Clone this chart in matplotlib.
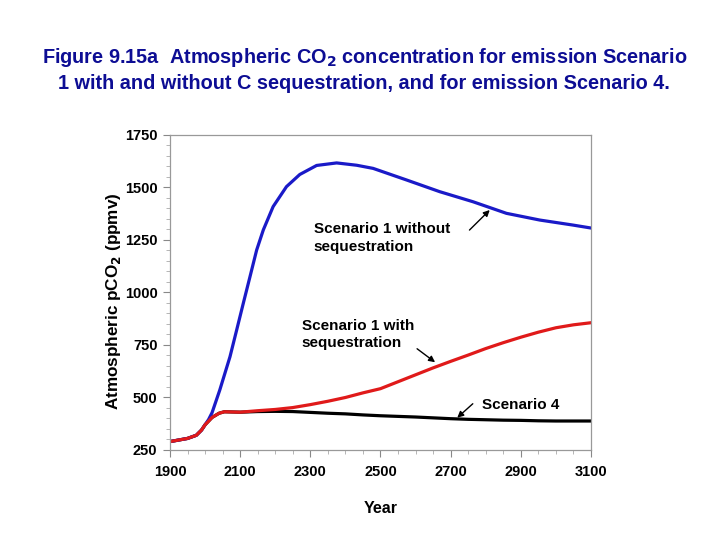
import matplotlib
matplotlib.use("Agg")
import matplotlib.pyplot as plt
from matplotlib.ticker import MultipleLocator

plt.rcParams['font.family'] = ['Liberation Sans', 'DejaVu Sans']
plt.rcParams['font.weight'] = 'bold'

# Scenario 1 without sequestration (blue)
years_s1_without = [1900, 1950, 1975, 1990, 2000, 2010, 2020, 2042, 2071, 2090, 2109, 2128,
                    2147, 2166, 2194, 2232, 2270, 2318, 2375, 2432, 2479, 2574, 2669, 2764,
                    2859, 2954, 3049, 3100]
co2_s1_without = [290, 305, 320, 345, 370, 395, 428, 536, 694, 821, 949, 1075,
                  1202, 1298, 1409, 1504, 1562, 1605, 1617, 1606, 1591, 1536, 1480, 1432,
                  1377, 1345, 1321, 1307]

# Scenario 1 with sequestration (red)
years_s1_with = [1900, 1950, 1975, 1990, 2000, 2020, 2040, 2055, 2100, 2150, 2200, 2250, 2300,
                 2350, 2400, 2450, 2500, 2550, 2600, 2650, 2700, 2750, 2800, 2850, 2900, 2950,
                 3000, 3050, 3100]
co2_s1_with = [290, 305, 320, 345, 370, 405, 425, 432, 430, 437, 443, 452, 466,
               482, 500, 522, 542, 575, 608, 641, 672, 702, 733, 761, 787, 811,
               832, 846, 856]

# Scenario 4 (black)
years_s4 = [1900, 1950, 1975, 1990, 2000, 2020, 2040, 2055, 2100, 2150, 2200, 2250, 2300,
            2350, 2400, 2450, 2500, 2550, 2600, 2650, 2700, 2750, 2800, 2850, 2900, 2950,
            3000, 3050, 3100]
co2_s4 = [290, 305, 320, 345, 370, 405, 425, 432, 430, 433, 434, 433, 429,
          425, 422, 417, 413, 410, 407, 403, 399, 396, 394, 392, 391, 389,
          388, 388, 388]

x_ticks = [1900, 2100, 2300, 2500, 2700, 2900, 3100]
y_ticks = [250, 500, 750, 1000, 1250, 1500, 1750]

fig = plt.figure(figsize=(7.2, 5.4), dpi=100)
ax = fig.add_axes([0.2361, 0.1667, 0.5847, 0.5833])

ax.plot(years_s4, co2_s4, color='black', lw=2.3, solid_capstyle='round')
ax.plot(years_s1_without, co2_s1_without, color='#1a1ac8', lw=2.3, solid_capstyle='round')
ax.plot(years_s1_with, co2_s1_with, color='#e01a1a', lw=2.3, solid_capstyle='round')

ax.set_xlim(1900, 3100)
ax.set_ylim(250, 1750)
ax.set_xticks(x_ticks)
ax.set_yticks(y_ticks)
ax.xaxis.set_minor_locator(MultipleLocator(50))
ax.yaxis.set_minor_locator(MultipleLocator(50))
ax.tick_params(axis='both', which='major', length=5, width=0.8, color='#888888',
               labelsize=10.5, direction='out')
ax.tick_params(axis='x', which='major', pad=6)
ax.tick_params(axis='y', which='major', pad=4)
ax.tick_params(axis='both', which='minor', length=3, width=0.6, color='#aaaaaa', direction='out')
for lab in ax.get_xticklabels() + ax.get_yticklabels():
    lab.set_fontweight('bold')
for s in ax.spines.values():
    s.set_color('#999999')
    s.set_linewidth(0.9)

ax.set_xlabel('Year', fontsize=11.5, fontweight='bold', labelpad=16)
ax.set_ylabel('Atmospheric pCO$_\\mathbf{2}$ (ppmv)', fontsize=12.3, fontweight='bold')
ax.yaxis.set_label_coords(-0.112, 0.473)

fig.text(0.506, 0.871, 'Figure 9.15a  Atmospheric CO$_\\mathbf{2}$ concentration for emission Scenario\n'
         '1 with and without C sequestration, and for emission Scenario 4.',
         ha='center', va='center', fontsize=14.3, fontweight='bold', color='#0d0d94',
         linespacing=1.3)

ann_kw = dict(fontsize=11, fontweight='bold', ha='left', va='center', linespacing=1.35)
ax.text(2310, 1259, 'Scenario 1 without\nsequestration', **ann_kw)
ax.text(2275, 800, 'Scenario 1 with\nsequestration', **ann_kw)
ax.text(2790, 464, 'Scenario 4', **ann_kw)

arr = dict(arrowstyle='-|>', color='black', lw=1.0, mutation_scale=9)
ax.annotate('', xy=(2817, 1402), xytext=(2748, 1288), arrowprops=arr)
ax.annotate('', xy=(2662, 660), xytext=(2598, 740), arrowprops=arr)
ax.annotate('', xy=(2713, 395), xytext=(2769, 479), arrowprops=arr)

fig.savefig('out.png', dpi=100)
